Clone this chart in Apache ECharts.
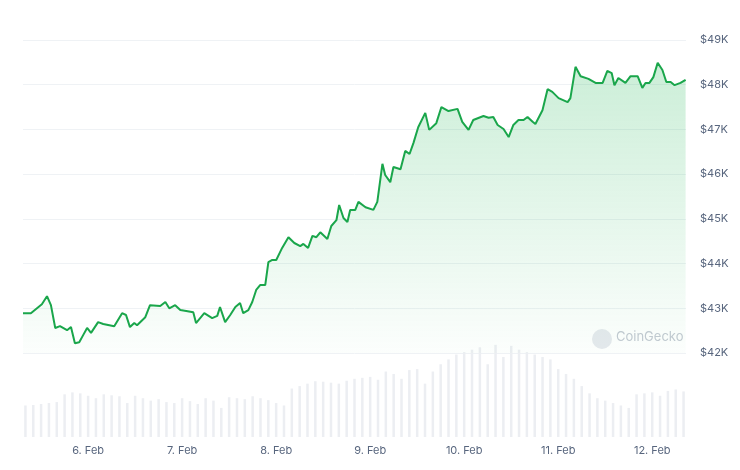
<!DOCTYPE html>
<html><head><meta charset="utf-8">
<script src="https://cdn.jsdelivr.net/npm/echarts@6/dist/echarts.min.js"></script>
<style>html,body{margin:0;padding:0;background:#fff}#c{width:740px;height:470px}</style>
</head><body><div id="c"></div>
<script>
// hours since 5 Feb 00:00 and price in $K
const priceHours = [7.7,9.7,12.5,13.8,14.8,15.9,17.1,18.9,19.9,20.9,22.0,23.0,24.0,25.0,26.8,28.1,30.9,32.9,33.9,34.9,36.0,36.7,38.8,40.0,42.6,43.9,44.9,46.4,47.7,49.2,51.0,51.7,53.8,55.8,57.1,57.8,59.1,60.4,61.7,62.9,63.7,65.0,66.0,67.0,68.0,69.3,70.1,71.1,72.1,73.6,75.2,76.7,78.2,79.0,80.2,81.3,82.3,83.3,85.1,86.1,87.4,88.1,89.2,90.2,90.9,92.2,93.0,94.8,96.8,97.8,99.1,99.8,101.1,101.9,103.7,104.9,106.0,107.0,108.2,110.0,111.0,112.8,114.1,115.9,118.2,119.4,121.0,122.2,124.8,126.1,127.3,128.4,129.9,131.2,132.4,133.7,135.0,136.0,137.3,138.0,139.8,141.1,142.3,143.9,146.2,146.9,148.2,149.5,151.5,153.3,155.1,156.3,157.4,158.1,159.1,160.9,162.2,164.0,165.2,166.0,167.0,168.0,169.1,170.3,171.3,172.4,173.4,174.9,176.2];
const priceValues = [42.89,42.89,43.09,43.27,43.07,42.56,42.60,42.51,42.58,42.22,42.24,42.40,42.56,42.45,42.69,42.65,42.60,42.89,42.85,42.58,42.67,42.62,42.80,43.07,43.05,43.14,43.00,43.07,42.96,42.94,42.91,42.67,42.89,42.78,42.83,43.03,42.69,42.85,43.03,43.12,42.89,42.96,43.14,43.41,43.52,43.52,44.03,44.08,44.08,44.35,44.59,44.46,44.39,44.44,44.35,44.62,44.59,44.70,44.55,44.84,44.97,45.31,45.02,44.93,45.20,45.20,45.38,45.26,45.20,45.38,46.23,45.98,45.82,46.16,46.11,46.52,46.45,46.70,47.05,47.37,46.99,47.14,47.50,47.41,47.46,47.17,46.99,47.21,47.30,47.26,47.28,47.10,47.01,46.83,47.10,47.21,47.21,47.28,47.17,47.12,47.43,47.90,47.84,47.70,47.61,47.70,48.40,48.19,48.13,48.04,48.04,48.31,48.26,47.99,48.15,48.04,48.19,48.19,47.93,48.04,48.04,48.17,48.49,48.33,48.06,48.06,47.99,48.04,48.11];
// volume every 2 hours starting at hour 8
const volumeStartHour = 8, volumeStepHours = 2;
const volumeValues = [65,66,68,70,72,88,92,90,85,80,88,86,84,70,85,80,75,78,72,70,80,74,68,80,75,60,82,80,78,84,80,76,70,65,100,105,110,115,114,112,110,116,120,122,124,118,135,130,120,138,140,110,135,150,160,170,175,180,185,150,190,165,188,180,175,170,165,160,140,130,120,105,90,80,75,70,65,60,88,90,92,85,95,98,94];
const yTicks = [42,43,44,45,46,47,48,49];

const base = Date.UTC(2024,1,5);
const H = 3600e3;
const priceData = priceHours.map((h,i)=>[base+h*H, priceValues[i]]);
const volData = volumeValues.map((v,i)=>[base+(volumeStartHour+i*volumeStepHours)*H, v]);
const xMin = base+7.7*H, xMax = base+176.3*H;
const fmt = v => { const d=new Date(v); return d.getUTCDate()+'. Feb'; };

const chart = echarts.init(document.getElementById('c'));
chart.setOption({
  animation:false,
  grid:[{left:23,right:54,top:40,height:313},{left:23,right:54,top:340,height:97}],
  xAxis:[
    {type:'time',gridIndex:0,min:xMin,max:xMax,axisLabel:{show:false},axisLine:{show:false},axisTick:{show:false},splitLine:{show:false}},
    {type:'time',gridIndex:1,min:xMin,max:xMax,interval:24*H,minInterval:24*H,maxInterval:24*H,
     axisLine:{show:false},axisTick:{show:false},splitLine:{show:false},
     axisLabel:{formatter:fmt,color:'#58667e',fontSize:11,fontFamily:'Inter, Noto Sans, sans-serif',margin:8,showMinLabel:false,showMaxLabel:false}}
  ],
  yAxis:[
    {type:'value',gridIndex:0,position:'right',min:yTicks[0],max:yTicks[yTicks.length-1],interval:1,
     axisLabel:{formatter:v=>'$'+v+'K',color:'#58667e',fontSize:11,fontFamily:'Inter, Noto Sans, sans-serif',margin:14},
     axisLine:{show:false},axisTick:{show:false},splitLine:{lineStyle:{color:'#eff2f5'}}},
    {type:'value',gridIndex:1,min:0,max:200,show:false,splitLine:{show:false}}
  ],
  graphic:[
    {type:'circle',left:592,top:329,shape:{r:10},style:{fill:'#e6e9ee'}},
    {type:'text',left:616,top:331,style:{text:'CoinGecko',fill:'#c4cad3',font:'13px Inter, Noto Sans, sans-serif'}}
  ],
  series:[
    {type:'bar',xAxisIndex:1,yAxisIndex:1,data:volData,barWidth:2.5,itemStyle:{color:'#eceef2'},silent:true},
    {type:'line',xAxisIndex:0,yAxisIndex:0,data:priceData,showSymbol:false,
     lineStyle:{color:'#1aa64b',width:2},
     areaStyle:{origin:'start',color:new echarts.graphic.LinearGradient(0,0,0,1,[{offset:0,color:'rgba(26,180,80,0.32)'},{offset:1,color:'rgba(26,180,80,0.02)'}])}}
  ]
});
</script></body></html>
